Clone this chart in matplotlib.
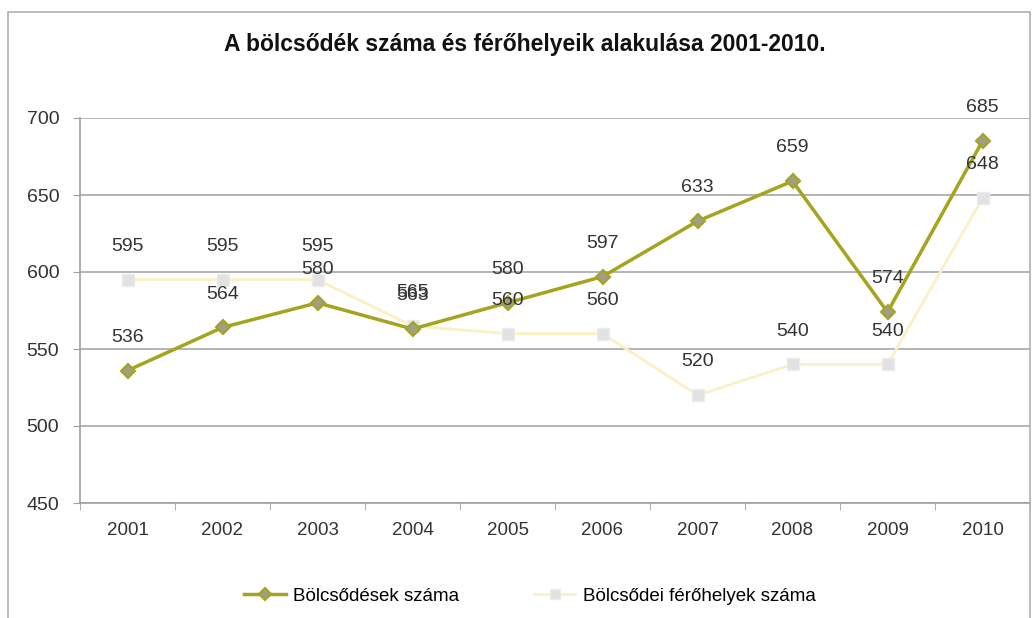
import numpy as np
import matplotlib.pyplot as plt
from matplotlib.patches import Rectangle

plt.rcParams['font.family'] = ['Liberation Sans', 'DejaVu Sans']

# data
years = ['2001', '2002', '2003', '2004', '2005', '2006', '2007', '2008', '2009', '2010']
bolcsodek = [536, 564, 580, 563, 580, 597, 633, 659, 574, 685]
ferohelyek = [595, 595, 595, 565, 560, 560, 520, 540, 540, 648]

green = '#a4a41e'
light = '#fbf0c4'

fig = plt.figure(figsize=(10.35, 6.18), dpi=100)
fig.patches.append(Rectangle((8 / 1035, -0.01), 1022 / 1035, 1 - 12 / 618 + 0.01,
                             transform=fig.transFigure, fill=False,
                             edgecolor='#b0b0b0', linewidth=1.2))

ax = fig.add_axes([80 / 1035, 1 - 503 / 618, 950 / 1035, 385 / 618])
x = np.arange(len(years))

ax.plot(x, ferohelyek, color=light, linewidth=2, marker='s', markersize=9,
        markerfacecolor='#e2e2e2', markeredgecolor='#ececec',
        label='Bölcsődei férőhelyek száma', zorder=3)
ax.plot(x, bolcsodek, color=green, linewidth=2.5, marker='D', markersize=7.5,
        markerfacecolor='#a09e84', markeredgecolor=green, markeredgewidth=1.5,
        label='Bölcsődések száma', zorder=4)

# data labels above points
for xi, v in zip(x, ferohelyek):
    ax.annotate(str(v), (xi, v), xytext=(0, 24), textcoords='offset points',
                ha='center', va='center', fontsize=14, color='#333333',
                annotation_clip=False, zorder=5)
for xi, v in zip(x, bolcsodek):
    ax.annotate(str(v), (xi, v), xytext=(0, 24), textcoords='offset points',
                ha='center', va='center', fontsize=14, color='#333333',
                annotation_clip=False, zorder=5)

ax.set_xlim(-0.5, len(years) - 0.5)
ax.set_ylim(450, 700)
ax.set_yticks(np.arange(450, 701, 50))
ax.set_xticks(x)
ax.set_xticklabels(years)
ax.set_xticks(np.arange(-0.5, len(years), 1), minor=True)
ax.tick_params(axis='x', which='major', length=0, pad=14, labelsize=13.5, labelcolor='#333333')
ax.tick_params(axis='x', which='minor', length=5, color='#a0a0a0')
ax.tick_params(axis='y', length=5, color='#a0a0a0', pad=10, labelsize=14, labelcolor='#333333')
ax.yaxis.grid(True, color='#a8a8a8', linewidth=1.2)
ax.set_axisbelow(True)
for s in ['top', 'right']:
    ax.spines[s].set_visible(False)
for s in ['left', 'bottom']:
    ax.spines[s].set_color('#a0a0a0')
    ax.spines[s].set_linewidth(1.2)

fig.text(525 / 1035, 1 - 45 / 618, 'A bölcsődék száma és férőhelyeik alakulása 2001-2010.',
         ha='center', va='center', fontsize=16.5, fontweight='bold', color='#111111')

handles, labels = ax.get_legend_handles_labels()
fig.legend(handles[::-1], labels[::-1], loc='center', bbox_to_anchor=(530 / 1035, 1 - 596 / 618),
           ncol=2, frameon=False, fontsize=13.5, columnspacing=4, handlelength=2.2,
           handletextpad=0.4, markerscale=0.8)

plt.savefig('out.png', dpi=100)
